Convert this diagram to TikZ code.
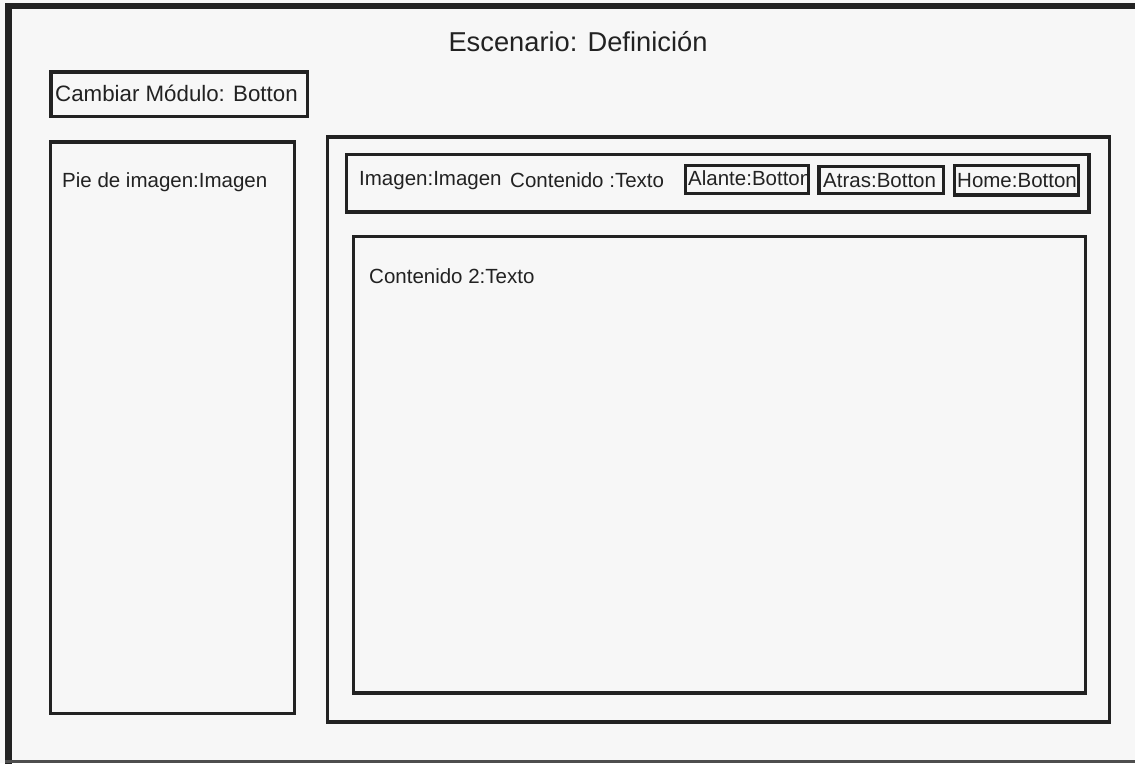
\documentclass[tikz,border=0pt]{standalone}
\usepackage{fontspec}
\setmainfont{Liberation Sans}
\usetikzlibrary{fit}
\definecolor{paper}{HTML}{F7F7F7}
\definecolor{ink}{HTML}{222222}
\tikzset{
  box/.style={draw=ink, line width=3.4pt, inner sep=0pt, fit={#1}},
  btn/.style={draw=ink, line width=3.2pt, inner sep=0pt, fit={#1}},
  lbl/.style={anchor=base west, inner sep=0pt, text=ink, font=\fontsize{20.5}{24}\selectfont},
}
\begin{document}
\begin{tikzpicture}[x=1pt,y=-1pt]
  \useasboundingbox (0,0) rectangle (1135,763);
  \fill[paper] (0,0) rectangle (1135,763);
  % window frame: heavy top and left edges, thin bottom edge
  \begin{scope}
    \clip (0,0) rectangle (1135,763);
    \draw[ink, line width=6pt] (5,6) -- (1140,6);
    \draw[ink, line width=7pt] (8.5,3) -- (8.5,766);
    \draw[ink!80, line width=2.5pt] (5,761.5) -- (1140,761.5);
  \end{scope}

  % title
  \node[anchor=base, inner sep=0pt, text=ink, font=\fontsize{27.3}{32}\selectfont] (title) at (578,51) {Escenario: Definición};

  % module switch button
  \node[box={(51,72) (307.5,116.5)}] (cambiar) {};
  \node[lbl, font=\fontsize{22.3}{26}\selectfont] (cambiarTxt) at (55,101.7) {Cambiar Módulo: Botton};

  % left caption panel
  \node[box={(50.5,142) (294.5,713.5)}] (pie) {};
  \node[lbl] (pieTxt) at (62,187) {Pie de imagen:Imagen};

  % right content panel
  \node[box={(327.5,137) (1109.7,722)}] (panel) {};

  % header strip with texts and buttons
  \node[box={(346.5,154.3) (1089,212)}] (header) {};
  \node[lbl] (imgTxt) at (359,185) {Imagen:Imagen};
  \node[lbl] (contTxt) at (510,187) {Contenido :Texto};
  \node[lbl] (alanteTxt) at (688,185) {Alante:Botton};
  \node[btn={(685.7,165.7) (808.3,193.3)}] (alante) {};
  \node[lbl] (atrasTxt) at (823,187) {Atras:Botton};
  \node[btn={(819,166.7) (943.3,193.3)}] (atras) {};
  \node[lbl] (homeTxt) at (957,187) {Home:Botton};
  \node[btn={(954.3,165.7) (1078.3,195)}] (home) {};

  % main content area
  \node[box={(353.5,236.7) (1085.3,693)}] (content) {};
  \node[lbl] (content2Txt) at (369,283) {Contenido 2:Texto};
\end{tikzpicture}
\end{document}
